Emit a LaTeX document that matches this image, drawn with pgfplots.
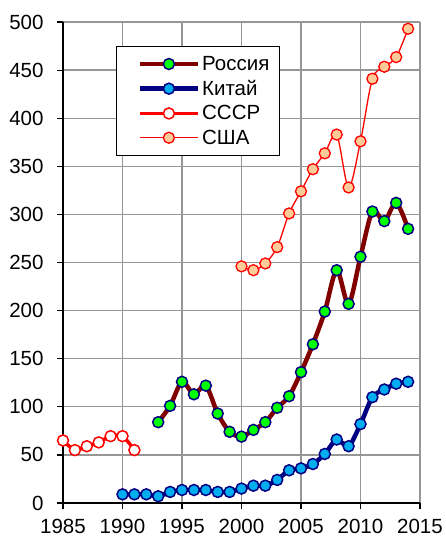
\documentclass[border=0pt]{standalone}
\usepackage{pgfplots}
\pgfplotsset{compat=1.18}
\usepackage{fontspec}
\setmainfont{Liberation Sans}
\definecolor{rusline}{RGB}{128,0,0}
\definecolor{navy}{RGB}{0,0,128}
\definecolor{gridg}{RGB}{150,150,150}
\definecolor{peach}{RGB}{255,204,153}
\begin{document}
\begin{tikzpicture}
\useasboundingbox (-63pt,-36pt) rectangle (383pt,503pt);
\begin{axis}[
  at={(0pt,0pt)}, anchor=south west,
  scale only axis, width=357pt, height=481pt,
  xmin=1985, xmax=2015, ymin=0, ymax=500,
  xtick={1985,1990,...,2015}, ytick={0,50,...,500},
  axis x line*=bottom, axis y line*=left,
  axis line style={black, line width=1.3pt, -},
  grid=major, major grid style={gridg, line width=1.3pt},
  tick align=outside, major tick length=6pt,
  tick style={black, line width=1.2pt},
  /pgf/number format/1000 sep={},
  /pgf/number format/assume math mode=true,
  tick label style={font=\fontsize{20.5}{22}\selectfont},
  xticklabel style={yshift=-7pt},
  yticklabel style={xshift=-10pt},
  legend style={at={(0.1485,0.95)}, anchor=north west, draw=black, line width=1.3pt,
    font=\fontsize{20.5}{23}\selectfont, row sep=4.5pt, inner xsep=8pt, inner ysep=7.5pt,
    /tikz/every even column/.append style={column sep=0pt}},
  legend cell align=left,
  legend image code/.code={\path (-13pt,0pt); \draw[mark repeat=2,mark phase=2,#1] plot coordinates {(0pt,0pt)(29pt,0pt)(58pt,0pt)};},
]
\addplot[rusline, line width=4.5pt, smooth, mark=*, mark size=5.5pt,
  mark options={fill=green, draw=navy, line width=1.5pt}] coordinates {
(1993,84) (1994,101) (1995,126) (1996,113) (1997,122) (1998,93) (1999,74)
(2000,69) (2001,76) (2002,84) (2003,99) (2004,111) (2005,136) (2006,165)
(2007,199) (2008,242) (2009,207) (2010,256) (2011,303) (2012,293) (2013,312) (2014,285)};
\addlegendentry{Россия}
\addplot[navy, line width=4.5pt, smooth, mark=*, mark size=5.5pt,
  mark options={fill=cyan, draw=navy, line width=1.5pt}] coordinates {
(1990,9) (1991,9) (1992,9) (1993,7) (1994,11.5) (1995,13.5) (1996,13.5) (1997,13.5)
(1998,11.5) (1999,11.5) (2000,15) (2001,18) (2002,18) (2003,24) (2004,34) (2005,36)
(2006,40.5) (2007,51) (2008,66) (2009,59) (2010,82) (2011,110) (2012,118) (2013,124) (2014,126)};
\addlegendentry{Китай}
\addplot[red, line width=3.5pt, smooth, mark=*, mark size=5.5pt,
  mark options={fill=white, draw=red, line width=1.5pt}] coordinates {
(1985,65) (1986,55) (1987,59) (1988,63) (1989,69.5) (1990,69.5) (1991,55)};
\addlegendentry{СССР}
\addplot[red, line width=1.3pt, smooth, mark=*, mark size=5.5pt,
  mark options={fill=peach, draw=red, line width=1.3pt}] coordinates {
(2000,246) (2001,242) (2002,249) (2003,266) (2004,301) (2005,324) (2006,347)
(2007,363.5) (2008,383) (2009,328) (2010,376) (2011,441) (2012,453.5) (2013,463.5) (2014,493)};
\addlegendentry{США}
\end{axis}
\end{tikzpicture}
\end{document}
